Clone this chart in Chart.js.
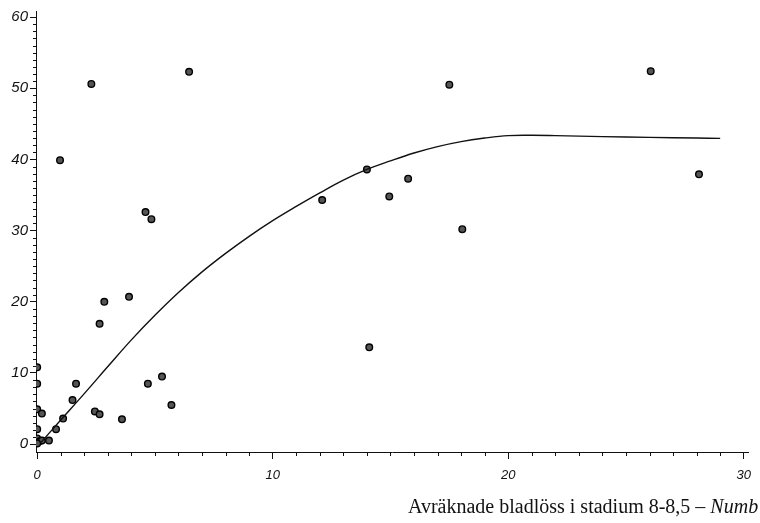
<!DOCTYPE html>
<html>
<head>
<meta charset="utf-8">
<script src="https://cdn.jsdelivr.net/npm/chart.js@4"></script>
<style>
    html, body { margin: 0; padding: 0; background: #fff; }
    #wrap { width: 760px; height: 523px; position: relative; }
</style>
</head>
<body>
<div id="wrap"><canvas id="aphidChart"></canvas></div>
<script>
// observed points
const pointX = [0, 0, 0, 0.2, 0, 0, 0.1, 0.2, 0, 0.5, 0.8, 1.1, 1.5, 1.65, 0.97, 2.3, 2.45, 2.65, 2.65, 2.85,
                3.6, 3.9, 4.6, 4.85, 4.7, 5.3, 5.7, 6.45, 12.1, 14.0, 14.1, 14.95, 15.75, 17.5, 18.05, 26.05, 28.1];
const pointY = [10.8, 8.5, 4.9, 4.3, 2.1, 0.8, 0.4, 0.5, 0.1, 0.5, 2.1, 3.6, 6.2, 8.5, 39.9, 50.6, 4.6, 4.2, 16.9, 20.0,
                3.5, 20.7, 32.6, 31.6, 8.5, 9.5, 5.5, 52.3, 34.3, 38.6, 13.6, 34.8, 37.3, 50.5, 30.2, 52.4, 37.9];

// fitted curve
const curveX = [0.15, 1, 2, 3, 4, 5, 6, 7, 8, 9, 10, 11, 12, 13, 14, 15, 16, 17, 18, 19, 20, 21, 22, 24, 26, 28, 29];
const curveY = [0.2, 3.4, 7.1, 10.9, 14.65, 18.1, 21.3, 24.2, 26.8, 29.2, 31.4, 33.4, 35.3, 37.1, 38.6, 39.8, 40.9, 41.8, 42.5, 43.0, 43.35, 43.4, 43.35, 43.2, 43.1, 43.0, 42.95];

const xTickLabels = ['0', '10', '20', '30'];
const yTickLabels = ['0', '10', '20', '30', '40', '50', '60'];
const xTitle = 'Avräknade bladlöss i stadium 8-8,5 – ';
const xTitleItalic = 'Numb';

const points = pointX.map((x, i) => ({ x, y: pointY[i] }));
const curve = curveX.map((x, i) => ({ x, y: curveY[i] }));

// small minor ticks and the serif axis caption
const extras = {
    id: 'extras',
    afterDraw(chart) {
        const c = chart.ctx;
        const xs = chart.scales.x, ys = chart.scales.y;
        const area = chart.chartArea;
        c.save();
        c.strokeStyle = '#111';
        c.lineWidth = 1;
        c.beginPath();
        for (let v = 0; v <= 30; v++) {
            if (v % 10 === 0) continue;
            const px = Math.round(xs.getPixelForValue(v)) + 0.5;
            c.moveTo(px, area.bottom);
            c.lineTo(px, area.bottom + 4);
        }
        for (let v = 0; v <= 60; v++) {
            if (v % 10 === 0) continue;
            const py = Math.round(ys.getPixelForValue(v)) + 0.5;
            c.moveTo(area.left - 3, py);
            c.lineTo(area.left, py);
        }
        c.stroke();

        c.fillStyle = '#111';
        c.textBaseline = 'alphabetic';
        c.textAlign = 'left';
        const x0 = 408;
        c.font = "20px 'Liberation Serif', serif";
        const w1 = c.measureText(xTitle).width;
        c.fillText(xTitle, x0, 513);
        c.font = "italic 20px 'Liberation Serif', serif";
        c.fillText(xTitleItalic, x0 + w1, 513);
        c.restore();
    }
};

new Chart(document.getElementById('aphidChart').getContext('2d'), {
    type: 'scatter',
    data: {
        datasets: [
            {
                type: 'line',
                data: curve,
                borderColor: '#111',
                borderWidth: 1.4,
                pointRadius: 0,
                tension: 0.4,
                fill: false,
            },
            {
                data: points,
                backgroundColor: '#555',
                borderColor: '#000',
                borderWidth: 1.4,
                pointRadius: 3.3,
            },
        ],
    },
    options: {
        responsive: true,
        maintainAspectRatio: false,
        animation: false,
        events: [],
        layout: { padding: { top: 9, right: 5, left: 0, bottom: 0 } },
        plugins: { legend: { display: false }, tooltip: { enabled: false } },
        scales: {
            x: {
                type: 'linear',
                min: -0.05,
                max: 30.2,
                afterFit: s => { s.height = 71; },
                border: { display: true, color: '#111', width: 1 },
                grid: { drawOnChartArea: false, color: '#111', tickLength: 7 },
                ticks: {
                    stepSize: 10,
                    includeBounds: false,
                    maxRotation: 0,
                    padding: 9,
                    color: '#111',
                    font: { family: "'Liberation Sans', Arial, sans-serif", size: 13, style: 'italic' },
                    callback: v => xTickLabels[xTickLabels.indexOf(String(v))] ?? '',
                },
            },
            y: {
                min: -1.1,
                max: 60.85,
                afterFit: s => { s.width = 36; },
                border: { display: true, color: '#111', width: 1 },
                grid: { drawOnChartArea: false, color: '#111', tickLength: 6 },
                ticks: {
                    stepSize: 10,
                    includeBounds: false,
                    padding: 2,
                    color: '#111',
                    font: { family: "'Liberation Sans', Arial, sans-serif", size: 15, style: 'italic' },
                    callback: v => yTickLabels[yTickLabels.indexOf(String(v))] ?? '',
                },
            },
        },
    },
    plugins: [extras],
});
</script>
</body>
</html>
